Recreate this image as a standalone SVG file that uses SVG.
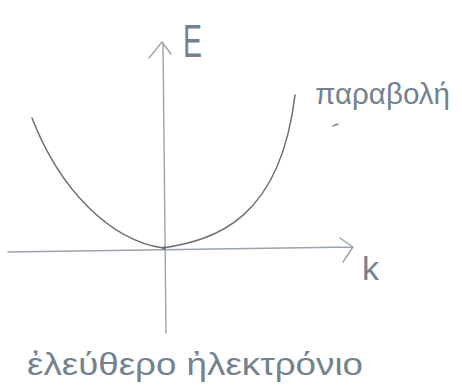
<svg xmlns="http://www.w3.org/2000/svg" width="462" height="392" viewBox="0 0 462 392">
<style>
.axis{fill:none;stroke:#9aa4ae;stroke-width:1.4;stroke-linecap:round;stroke-linejoin:round}
.curve{fill:none;stroke:#6b6f74;stroke-width:1.5;stroke-linecap:round}
.hand{font-family:"Liberation Sans","DejaVu Sans",sans-serif;fill:#74828f}
</style>
<rect width="462" height="392" fill="#ffffff"/>
<g id="connectors">
<path id="e-axis" class="axis" d="M166,333 L163,43 M149,58 L162,42 L171,54"/>
<path id="k-axis" class="axis" d="M8,252 L353,247 M340,238 L353,247 L343,262"/>
</g>
<g id="parabola">
<path class="curve" d="M32,118 C60,190 110,240 163,248 C215,240 280,220 295,95"/>
<circle cx="164" cy="248" r="1.8" fill="#6b6f74"/>
</g>
<g id="label-E"><text class="hand" x="183" y="57" font-size="46" textLength="19" lengthAdjust="spacingAndGlyphs">E</text></g>
<g id="label-k"><text class="hand" x="362" y="280" font-size="34">k</text></g>
<g id="label-parabola">
<text class="hand" x="315" y="104" font-size="30" textLength="135" lengthAdjust="spacingAndGlyphs">παραβολή</text>
<line x1="333" y1="126" x2="338" y2="124" stroke="#7d8a96" stroke-width="1.5" stroke-linecap="round"/>
</g>
<g id="label-title"><text class="hand" x="27" y="375" font-size="32" textLength="336" lengthAdjust="spacingAndGlyphs">ἐλεύθερο ἠλεκτρόνιο</text></g>
</svg>
